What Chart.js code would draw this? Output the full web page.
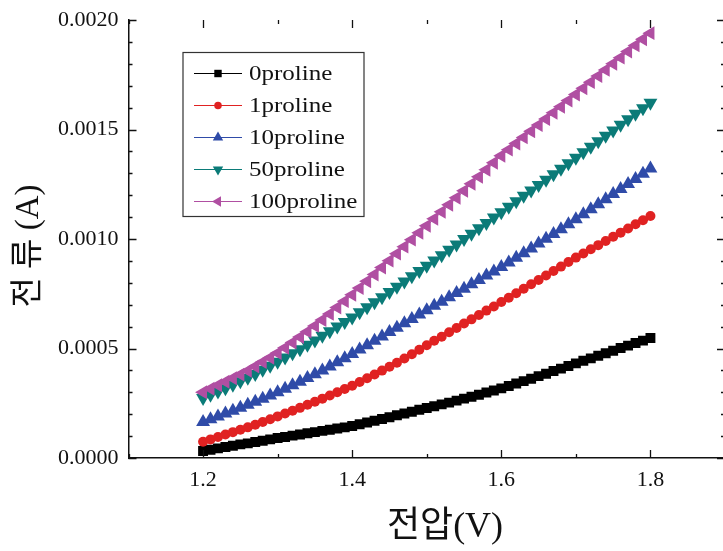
<!DOCTYPE html>
<html>
<head>
<meta charset="utf-8">
<script src="https://cdn.jsdelivr.net/npm/chart.js@4"></script>
<style>
  html, body { margin: 0; padding: 0; background: #fff; overflow: hidden; }
  #marco { width: 727px; height: 551px; }
</style>
</head>
<body>
<div id="marco"><canvas id="grafico" width="727" height="551"></canvas></div>
<script>
// voltaje (V)
const voltaje = [
  1.20, 1.21, 1.22, 1.23, 1.24, 1.25, 1.26, 1.27, 1.28, 1.29,
  1.30, 1.31, 1.32, 1.33, 1.34, 1.35, 1.36, 1.37, 1.38, 1.39,
  1.40, 1.41, 1.42, 1.43, 1.44, 1.45, 1.46, 1.47, 1.48, 1.49,
  1.50, 1.51, 1.52, 1.53, 1.54, 1.55, 1.56, 1.57, 1.58, 1.59,
  1.60, 1.61, 1.62, 1.63, 1.64, 1.65, 1.66, 1.67, 1.68, 1.69,
  1.70, 1.71, 1.72, 1.73, 1.74, 1.75, 1.76, 1.77, 1.78, 1.79, 1.80
];

const nombres = ["0proline", "1proline", "10proline", "50proline", "100proline"];
const colores = ["#000000", "#e02222", "#2f4ba8", "#0b7b78", "#b04fa2"];

// corriente en mA (se pasa a A al armar el grafico)
const p0 = [
  0.032, 0.038, 0.044, 0.050, 0.056, 0.062, 0.067, 0.073, 0.079, 0.085,
  0.091, 0.096, 0.102, 0.107, 0.113, 0.118, 0.124, 0.129, 0.135, 0.140,
  0.146, 0.154, 0.162, 0.170, 0.178, 0.186, 0.195, 0.203, 0.211, 0.220,
  0.228, 0.236, 0.245, 0.253, 0.262, 0.271, 0.280, 0.289, 0.299, 0.308,
  0.318, 0.329, 0.340, 0.351, 0.362, 0.374, 0.385, 0.397, 0.408, 0.420,
  0.432, 0.444, 0.455, 0.467, 0.478, 0.490, 0.502, 0.513, 0.525, 0.536, 0.548
];
const p1 = [
  0.074, 0.085, 0.096, 0.107, 0.118, 0.129, 0.140, 0.152, 0.164, 0.177,
  0.190, 0.203, 0.216, 0.229, 0.243, 0.257, 0.271, 0.285, 0.300, 0.315,
  0.330, 0.347, 0.364, 0.381, 0.399, 0.417, 0.435, 0.454, 0.474, 0.494,
  0.515, 0.535, 0.554, 0.574, 0.594, 0.614, 0.633, 0.653, 0.673, 0.692,
  0.712, 0.732, 0.752, 0.773, 0.793, 0.813, 0.833, 0.854, 0.874, 0.895,
  0.915, 0.934, 0.953, 0.972, 0.991, 1.010, 1.029, 1.048, 1.067, 1.086, 1.105
];
const p10 = [
  0.164, 0.177, 0.190, 0.203, 0.216, 0.230, 0.243, 0.257, 0.271, 0.285,
  0.300, 0.316, 0.332, 0.348, 0.365, 0.382, 0.399, 0.418, 0.437, 0.456,
  0.475, 0.495, 0.515, 0.535, 0.555, 0.575, 0.595, 0.615, 0.635, 0.655,
  0.675, 0.695, 0.714, 0.734, 0.753, 0.773, 0.793, 0.813, 0.833, 0.852,
  0.872, 0.893, 0.914, 0.935, 0.957, 0.979, 1.001, 1.023, 1.045, 1.067,
  1.090, 1.113, 1.136, 1.159, 1.182, 1.205, 1.228, 1.251, 1.274, 1.298, 1.322
];
const p50 = [
  0.274, 0.289, 0.304, 0.319, 0.335, 0.351, 0.367, 0.384, 0.403, 0.421,
  0.440, 0.459, 0.478, 0.497, 0.517, 0.537, 0.558, 0.579, 0.600, 0.621,
  0.642, 0.665, 0.688, 0.711, 0.734, 0.758, 0.782, 0.806, 0.830, 0.854,
  0.878, 0.902, 0.926, 0.951, 0.975, 1.000, 1.024, 1.049, 1.073, 1.098,
  1.122, 1.147, 1.172, 1.197, 1.222, 1.247, 1.271, 1.296, 1.321, 1.346,
  1.371, 1.396, 1.421, 1.446, 1.471, 1.496, 1.522, 1.547, 1.572, 1.597, 1.622
];
const p100 = [
  0.300, 0.316, 0.332, 0.348, 0.364, 0.381, 0.398, 0.418, 0.438, 0.458,
  0.479, 0.503, 0.527, 0.552, 0.577, 0.603, 0.630, 0.658, 0.687, 0.716,
  0.745, 0.776, 0.807, 0.838, 0.870, 0.901, 0.933, 0.965, 0.997, 1.028,
  1.060, 1.092, 1.124, 1.156, 1.188, 1.220, 1.252, 1.284, 1.316, 1.348,
  1.380, 1.408, 1.436, 1.464, 1.492, 1.520, 1.548, 1.576, 1.604, 1.632,
  1.660, 1.688, 1.716, 1.744, 1.772, 1.800, 1.828, 1.856, 1.884, 1.912, 1.940
];

const estilos = [
  { forma: "rect", radio: 7, giro: 0 },
  { forma: "circle", radio: 5, giro: 0 },
  { forma: "triangle", radio: 8, giro: 0 },
  { forma: "triangle", radio: 8, giro: 180 },
  { forma: "triangle", radio: 8, giro: 270 }
];

const ejeX = { min: 1.1, max: 1.9, paso: 0.1 };
const ejeY = { min: 0, max: 0.002, paso: 0.0001 };

const fuente = '"Liberation Serif", "Noto Sans CJK KR", serif';

function marcador(ctx, est, x, y, color, escala) {
  ctx.save();
  ctx.translate(x, y);
  ctx.rotate(est.giro * Math.PI / 180);
  ctx.fillStyle = color;
  ctx.beginPath();
  const r = est.radio * escala;
  if (est.forma === "rect") {
    const s = r * Math.SQRT1_2;
    ctx.rect(-s, -s, 2 * s, 2 * s);
  } else if (est.forma === "circle") {
    ctx.arc(0, 0, r, 0, Math.PI * 2);
  } else {
    ctx.moveTo(0, -r);
    ctx.lineTo(r * 0.866, r * 0.5);
    ctx.lineTo(-r * 0.866, r * 0.5);
    ctx.closePath();
  }
  ctx.fill();
  ctx.restore();
}

// marcas de eje hacia adentro en los cuatro lados
const marcasPlugin = {
  id: "marcas",
  afterDraw(chart) {
    const { ctx, chartArea: a, scales } = chart;
    ctx.save();
    ctx.strokeStyle = "#111";
    ctx.lineWidth = 1.3;
    ctx.beginPath();
    scales.x.ticks.forEach((t) => {
      const px = Math.round(scales.x.getPixelForValue(t.value)) + 0.5;
      const largo = Math.round(t.value * 10) % 2 === 0 ? 8 : 4;
      ctx.moveTo(px, a.bottom); ctx.lineTo(px, a.bottom - largo);
      ctx.moveTo(px, a.top); ctx.lineTo(px, a.top + largo);
    });
    scales.y.ticks.forEach((t) => {
      const py = Math.round(scales.y.getPixelForValue(t.value)) + 0.5;
      const largo = Math.round(t.value * 10000) % 5 === 0 ? 8 : 4;
      ctx.moveTo(a.left, py); ctx.lineTo(a.left + largo, py);
      ctx.moveTo(a.right, py); ctx.lineTo(a.right - largo, py);
    });
    ctx.stroke();
    ctx.restore();
  }
};

// leyenda en caja y titulos de ejes
const leyendaPlugin = {
  id: "leyenda",
  afterDraw(chart) {
    const { ctx, chartArea: a } = chart;
    ctx.save();
    const bx = a.left + 54.5, by = a.top + 32.5;
    ctx.strokeStyle = "#333";
    ctx.lineWidth = 1.2;
    ctx.strokeRect(bx, by, 181, 164);
    ctx.textBaseline = "middle";
    chart.data.datasets.forEach((ds, i) => {
      const yy = by + 21 + i * 32;
      ctx.strokeStyle = ds.borderColor;
      ctx.lineWidth = 1.2;
      ctx.beginPath();
      ctx.moveTo(bx + 11, yy); ctx.lineTo(bx + 59, yy);
      ctx.stroke();
      marcador(ctx, estilos[i], bx + 35, yy, ds.borderColor, 0.75);
      ctx.save();
      ctx.translate(bx + 66, yy + 1);
      ctx.scale(1.25, 1);
      ctx.fillStyle = "#111";
      ctx.font = "20px " + fuente;
      ctx.fillText(ds.label, 0, 0);
      ctx.restore();
    });

    ctx.fillStyle = "#111";
    ctx.font = "36px " + fuente;
    ctx.textAlign = "center";
    ctx.textBaseline = "middle";
    ctx.fillText("전압(V)", 445, 528);
    ctx.translate(29, 246);
    ctx.rotate(-Math.PI / 2);
    ctx.font = "33px " + fuente;
    ctx.fillText("전 류 (A)", 0, 0);
    ctx.restore();
  }
};

const todas = [p0, p1, p10, p50, p100];

new Chart(document.getElementById("grafico"), {
  type: "line",
  data: {
    datasets: todas.map((serie, i) => ({
      label: nombres[i],
      data: voltaje.map((v, k) => ({ x: v, y: serie[k] / 1000 })),
      borderColor: colores[i],
      backgroundColor: colores[i],
      borderWidth: 1,
      pointStyle: estilos[i].forma,
      pointRadius: estilos[i].radio,
      pointRotation: estilos[i].giro,
      pointBorderWidth: 0,
      order: 4 - i
    }))
  },
  options: {
    responsive: false,
    animation: false,
    layout: { autoPadding: false, padding: { top: 20, left: 0, right: 2, bottom: 0 } },
    plugins: { legend: { display: false }, tooltip: { enabled: false } },
    scales: {
      x: {
        type: "linear",
        min: ejeX.min,
        max: ejeX.max,
        grid: { display: false, drawTicks: false },
        border: { display: true, color: "#111", width: 1.5 },
        ticks: {
          stepSize: ejeX.paso,
          autoSkip: false,
          maxRotation: 0,
          padding: 9,
          color: "#111",
          font: { family: fuente, size: 22 },
          callback: (v) => {
            const d = Math.round(v * 10);
            return d % 2 === 0 && d > 11 && d < 19 ? (d / 10).toFixed(1) : "";
          }
        },
        afterFit: (s) => { s.height = 93; s.paddingLeft = 0; s.paddingRight = 0; }
      },
      y: {
        min: ejeY.min,
        max: ejeY.max,
        grid: { display: false, drawTicks: false },
        border: { display: true, color: "#111", width: 1.5 },
        ticks: {
          stepSize: ejeY.paso,
          autoSkip: false,
          padding: 10,
          color: "#111",
          font: { family: fuente, size: 22 },
          callback: (v) => (Math.round(v * 10000) % 5 === 0 ? v.toFixed(4) : "")
        },
        afterFit: (s) => { s.width = 128.5; s.paddingTop = 0; s.paddingBottom = 0; }
      }
    }
  },
  plugins: [marcasPlugin, leyendaPlugin]
});
</script>
</body>
</html>
